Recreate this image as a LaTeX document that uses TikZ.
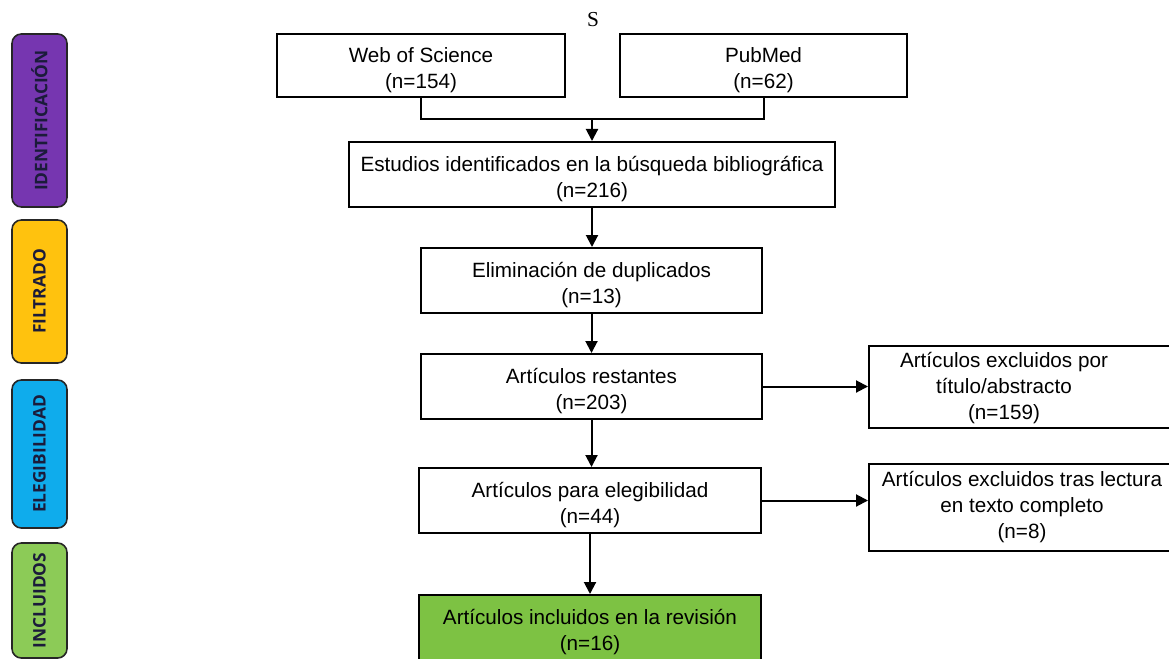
\documentclass[tikz,border=0pt]{standalone}
\usepackage{fontspec}
\setmainfont{Liberation Sans}
\newfontfamily\stagefont{Open Sans}
\newfontfamily\topfont{Liberation Serif}
\usetikzlibrary{arrows.meta,calc,positioning}

\newdimen\pxu
\pxu=0.75pt
\newcommand{\boxstrut}{\rule{0pt}{18pt}}

\definecolor{identpurple}{HTML}{7636B0}
\definecolor{filtyellow}{HTML}{FFC20E}
\definecolor{elegblue}{HTML}{0FACEC}
\definecolor{inclgreen}{HTML}{8CCB57}
\definecolor{boxgreen}{HTML}{7DC243}
\definecolor{stagetext}{HTML}{1B1B3A}

\tikzset{
  boxtext/.style={align=center,font=\fontsize{15.5}{19.5}\selectfont},
  box/.style={draw,rectangle,inner sep=0pt,fill=white,boxtext},
  twoline/.style={box,minimum height=65\pxu},
  stage/.style={draw=black!85,line width=1.2pt,rounded corners=7pt,rotate=90,
    minimum height=55\pxu,text=stagetext,font=\stagefont\bfseries\fontsize{13}{15}\selectfont},
  arr/.style={-{Triangle[length=9pt,width=9pt]}}
}

\begin{document}
\begin{tikzpicture}[x=0.75pt,y=-0.75pt,line width=1.5pt]
\useasboundingbox (0,0) rectangle (1169,659);
%stages
\node[stage,fill=identpurple,minimum width=173\pxu] (IDENT) at (39.5,120.5) {IDENTIFICACIÓN};
\node[stage,fill=filtyellow,minimum width=143\pxu] (FILT) at (39.5,291.5) {FILTRADO};
\node[stage,fill=elegblue,minimum width=148\pxu] (ELEGIB) at (39.5,454) {ELEGIBILIDAD};
\node[stage,fill=inclgreen,minimum width=115\pxu] (INCLUID) at (39.5,600.5) {INCLUIDOS};
%sources
\node[font=\topfont\fontsize{16}{18}\selectfont] (S) at (593,20) {S};
\node[twoline,minimum width=288\pxu,minimum height=63\pxu] (WOS) at (421,65.5) {\boxstrut Web of Science\\(n=154)};
\node[twoline,minimum width=287\pxu,minimum height=63\pxu] (PUBMED) at (763.5,65.5) {\boxstrut PubMed\\(n=62)};
\coordinate (JOIN) at (592,119);
%main column
\node[twoline,minimum width=486\pxu] (ESTUDIOS) at (592,174.5) {\boxstrut Estudios identificados en la búsqueda bibliográfica\\(n=216)};
\node[twoline,minimum width=341\pxu] (ELIM) at (591.5,280.5) {\boxstrut Eliminación de duplicados\\(n=13)};
\node[twoline,minimum width=341\pxu] (REST) at (591.5,386.5) {\boxstrut Artículos restantes\\(n=203)};
\node[twoline,minimum width=342\pxu] (ELEG) at (590,500.5) {\boxstrut Artículos para elegibilidad\\(n=44)};
\node[twoline,fill=boxgreen,minimum width=342\pxu] (INCL) at (590,627.5) {\boxstrut Artículos incluidos en la revisión\\(n=16)};
%excluded
\node[box,minimum width=306\pxu,minimum height=82\pxu] (EXCL1) at (1022,387) {};
\node[boxtext] (EXCL1TXT) at (1004,388) {Artículos excluidos por\\título/abstracto\\(n=159)};
\node[box,minimum width=306\pxu,minimum height=87\pxu] (EXCL2) at (1022,507.5) {Artículos excluidos tras lectura\\en texto completo\\(n=8)};
%connectors
\draw (WOS.south) |- (JOIN) -| (PUBMED.south);
\draw[arr] (JOIN) -- (JOIN |- ESTUDIOS.north);
\foreach \a/\b in {ESTUDIOS/ELIM,ELIM/REST,REST/ELEG,ELEG/INCL} {
  \draw[arr] (\a.south) -- (\a.south |- \b.north);
}
\draw[arr] (REST.east) -- (REST.east -| EXCL1.west);
\draw[arr] (ELEG.east) -- (ELEG.east -| EXCL2.west);
\end{tikzpicture}
\end{document}
